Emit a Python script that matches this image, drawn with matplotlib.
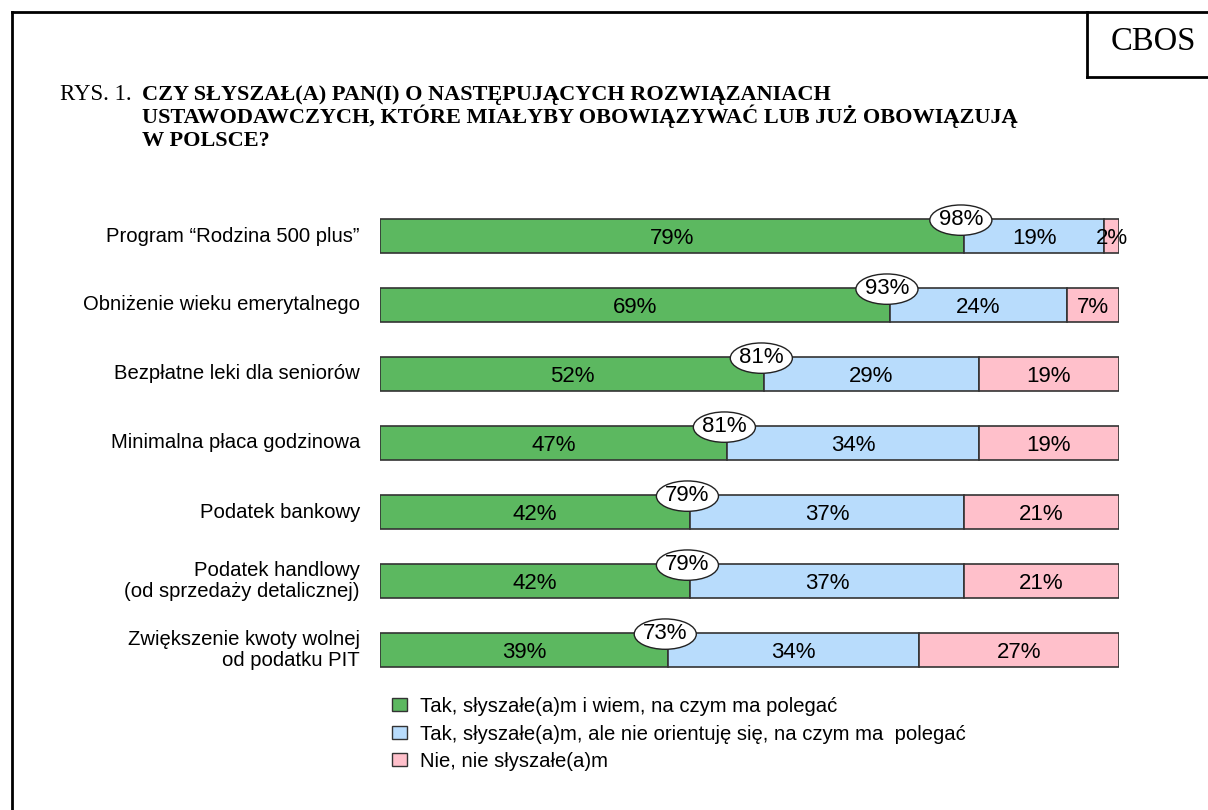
import matplotlib.pyplot as plt
from matplotlib.patches import Ellipse, Rectangle
from matplotlib.lines import Line2D
import numpy as np

categories = ['Program \u201cRodzina 500 plus\u201d',
              'Obniżenie wieku emerytalnego',
              'Bezpłatne leki dla seniorów',
              'Minimalna płaca godzinowa',
              'Podatek bankowy',
              'Podatek handlowy\n(od sprzedaży detalicznej)',
              'Zwiększenie kwoty wolnej\nod podatku PIT']
knows = [79, 69, 52, 47, 42, 42, 39]
heard = [19, 24, 29, 34, 37, 37, 34]
not_heard = [2, 7, 19, 19, 21, 21, 27]
totals = [98, 93, 81, 81, 79, 79, 73]
series_names = ['Tak, słyszałe(a)m i wiem, na czym ma polegać',
                'Tak, słyszałe(a)m, ale nie orientuję się, na czym ma  polegać',
                'Nie, nie słyszałe(a)m']
colors = ['#5cb860', '#b8dcfc', '#ffc0cb']

W, H = 1208, 810
fig = plt.figure(figsize=(W / 100, H / 100), dpi=100)
plt.rcParams['font.family'] = ['Liberation Sans', 'DejaVu Sans']

# bar area in pixels
x0, x1 = 380, 1119
top_px, bot_px = 200, 686
ax = fig.add_axes([x0 / W, 1 - bot_px / H, (x1 - x0) / W, (bot_px - top_px) / H])
ax.set_xlim(0, 100)
ax.set_ylim(6.522, -0.522)
ax.axis('off')

y = np.arange(len(categories))
h = 0.49
left = np.zeros(len(categories))
for vals, col in zip([knows, heard, not_heard], colors):
    ax.barh(y, vals, left=left, height=h, color=col, edgecolor='#333333', linewidth=1.2)
    for yi, l, v in zip(y, left, vals):
        ax.text(l + v / 2, yi + 0.04, f'{v}%', ha='center', va='center', fontsize=16)
    left = left + np.array(vals)

# ellipses with the total of "yes" answers
for yi, k, t in zip(y, knows, totals):
    ax.add_patch(Ellipse((k - 0.4, yi - 0.23), 8.4, 0.44, facecolor='white',
                         edgecolor='#222222', linewidth=1, zorder=5, clip_on=False))
    ax.text(k - 0.4, yi - 0.24, f'{t}%', ha='center', va='center', fontsize=16, zorder=6)

for yi, c in zip(y, categories):
    fig.text(360 / W, 1 - (236 + 69 * yi) / H, c, ha='right', va='center',
             fontsize=14.6, linespacing=1.15)

# legend
for i, (name, col) in enumerate(zip(series_names, colors)):
    base = 712 + 27.5 * i
    fig.add_artist(Rectangle((392 / W, 1 - (base - 1) / H), 15 / W, 13 / H,
                             facecolor=col, edgecolor='#333333', linewidth=1,
                             transform=fig.transFigure))
    fig.text(420 / W, 1 - base / H, name, ha='left', va='baseline', fontsize=14.6)

# title
serif = ['Liberation Serif', 'DejaVu Serif']
fig.text(60 / W, 1 - 100 / H, 'RYS. 1.', family=serif, fontsize=16.5, va='baseline')
title_lines = ['CZY SŁYSZAŁ(A) PAN(I) O NASTĘPUJĄCYCH ROZWIĄZANIACH',
               'USTAWODAWCZYCH, KTÓRE MIAŁYBY OBOWIĄZYWAĆ LUB JUŻ OBOWIĄZUJĄ',
               'W POLSCE?']
for i, t in enumerate(title_lines):
    fig.text(142 / W, 1 - (100 + 23 * i) / H, t, family=serif, fontsize=16,
             fontweight='bold', va='baseline')

# frame and CBOS box
lw = 2
fig.add_artist(Line2D([12 / W, 12 / W], [0, 1 - 12 / H], color='black', lw=lw))
fig.add_artist(Line2D([12 / W, 1], [1 - 12 / H, 1 - 12 / H], color='black', lw=lw))
fig.add_artist(Line2D([1087 / W, 1087 / W], [1 - 12 / H, 1 - 77 / H], color='black', lw=lw))
fig.add_artist(Line2D([1087 / W, 1], [1 - 77 / H, 1 - 77 / H], color='black', lw=lw))
fig.text(1153 / W, 1 - 50 / H, 'CBOS', family=serif, fontsize=23.5, ha='center', va='baseline')

fig.savefig('out.png', dpi=100)
